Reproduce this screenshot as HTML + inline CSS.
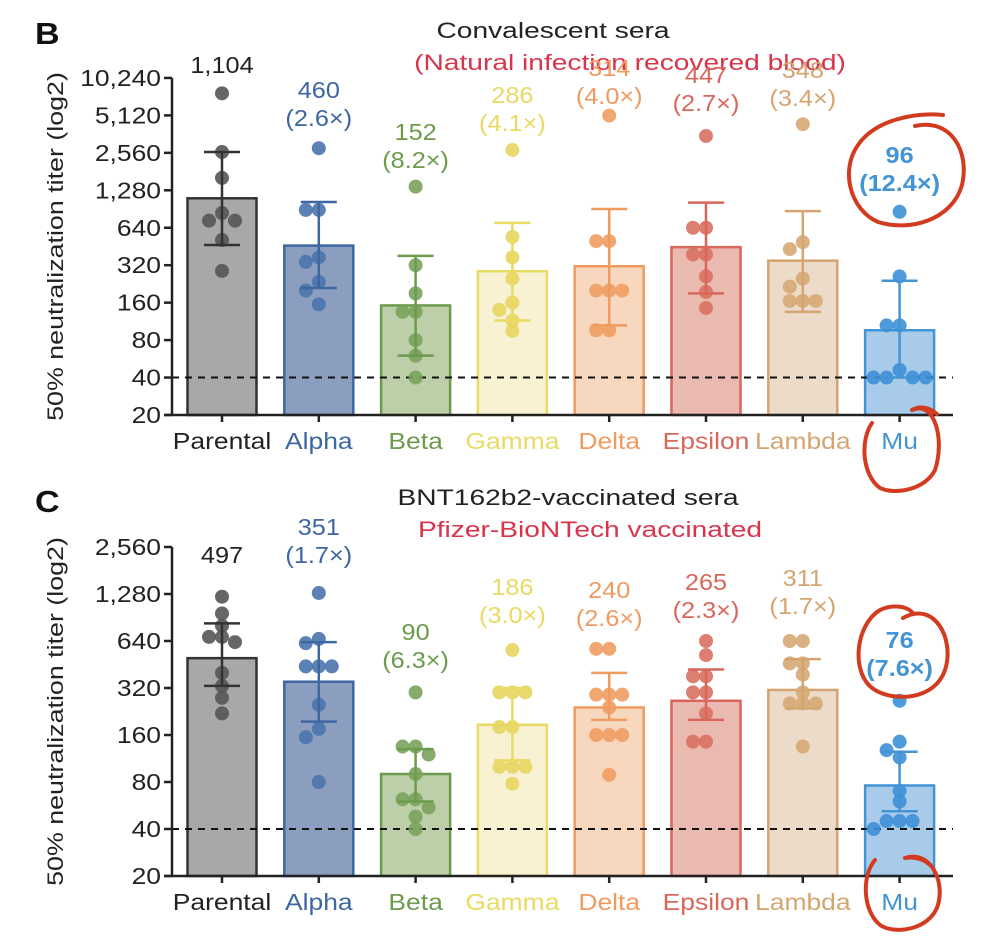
<!DOCTYPE html>
<html><head><meta charset="utf-8"><style>
html,body{margin:0;padding:0;background:#fff;width:1006px;height:942px;overflow:hidden}
svg{display:block;font-family:"Liberation Sans",Arial,sans-serif}
</style></head><body>
<svg id="chart" width="1006" height="942" viewBox="0 0 1006 942" xmlns="http://www.w3.org/2000/svg"></svg>
<script>
const categories = ["Parental","Alpha","Beta","Gamma","Delta","Epsilon","Lambda","Mu"];
const fillColors = ["#a8a8a8","#8c9ec0","#bccfa9","#f8f2d2","#f7d8bf","#eabab1","#ecdbc8","#a9cbea"];
const strokeColors = ["#333333","#3e66a1","#6c9b4c","#e9da62","#ef9b60","#d8675b","#d4a471","#4394d4"];
const dotColors = ["#555555","#4a74ad","#79a25c","#e7d560","#f09d63","#d97161","#d7a874","#3d90d7"];
const textColors = ["#222222","#3e66a1","#6c9b4c","#e9da62","#ef9b60","#d8675b","#d4a471","#4394d4"];

// Panel B: convalescent sera
const barsB = [1104,460,152,286,314,447,348,96];
const foldB = ["","(2.6×)","(8.2×)","(4.1×)","(4.0×)","(2.7×)","(3.4×)","(12.4×)"];
const valueLabelsB = ["1,104","460","152","286","314","447","348","96"];
const errHiB = [2600,1030,380,700,905,1020,870,240];
const errLoB = [465,210,60,115,105,190,135,40];
const pointsB = [
 [7700,2600,1610,840,730,730,510,288],
 [2790,890,890,370,340,235,200,155],
 [1370,320,190,135,135,80,60,40],
 [2700,540,370,250,160,140,115,95],
 [5100,500,500,200,200,200,96,96],
 [3500,640,640,390,390,260,195,145],
 [4350,490,430,250,215,165,165,165],
 [860,260,105,105,46,40,40,40,40]
];
const ticksB = [20,40,80,160,320,640,1280,2560,5120,10240];
const tickLabelsB = ["20","40","80","160","320","640","1,280","2,560","5,120","10,240"];

// Panel C: BNT162b2-vaccinated sera
const barsC = [497,351,90,186,240,265,311,76];
const foldC = ["","(1.7×)","(6.3×)","(3.0×)","(2.6×)","(2.3×)","(1.7×)","(7.6×)"];
const valueLabelsC = ["497","351","90","186","240","265","311","76"];
const errHiC = [830,630,130,320,400,420,490,125];
const errLoC = [330,195,60,110,200,200,237,52];
const pointsC = [
 [1230,960,800,680,680,630,400,330,277,220],
 [1300,660,620,440,440,440,250,175,155,80],
 [300,135,135,120,90,62,62,55,48,40],
 [560,300,300,300,180,180,100,100,100,78],
 [570,570,290,290,290,240,160,160,160,89],
 [640,520,380,380,300,300,220,145,145],
 [640,640,460,460,390,300,255,255,255,135],
 [265,145,128,115,70,60,45,45,45,40]
];
const ticksC = [20,40,80,160,320,640,1280,2560];
const tickLabelsC = ["20","40","80","160","320","640","1,280","2,560"];

const NS="http://www.w3.org/2000/svg";
const svg=document.getElementById("chart");
function mk(tag,attrs,parent){const e=document.createElementNS(NS,tag);for(const k in attrs)e.setAttribute(k,attrs[k]);(parent||svg).appendChild(e);return e;}
function txt(s,x,y,sx,attrs,parent){const a=Object.assign({x:0,y:0,transform:`translate(${x},${y}) scale(${sx},1)`},attrs);const e=mk("text",a,parent);e.textContent=s;return e;}

const axisX=172, axisEnd=953, cx0=222, step=96.8, barW=69;
function xPos(i){return cx0+i*step;}

function drawPanel(cfg){
  const g=mk("g",{});
  
  
  const y=v=>cfg.base - Math.log2(v/20)*cfg.oct;
  const L=txt(cfg.letter,35,cfg.letterY,1.1,{"font-size":31,"font-weight":"bold",fill:"#111"},g);
  
  
  const t1=txt(cfg.title,cfg.titleX,cfg.titleY,1.28,{"font-size":22,fill:"#222","text-anchor":"middle"},g);
  
  
  const t2=txt(cfg.sub,cfg.subX,cfg.titleY+32,1.28,{"font-size":22,fill:"#d8344a","text-anchor":"middle"},g);
  
  
  const yc=(cfg.base+y(cfg.ticks[cfg.ticks.length-1]))/2;
  const yt=mk("text",{x:0,y:0,"font-size":22,fill:"#222","text-anchor":"middle",transform:`translate(63,${yc}) rotate(-90) scale(${cfg.ytScale},1)`},g);
  yt.textContent="50% neutralization titer (log2)";
  
  
  for(let i=0;i<categories.length;i++){
    const v=cfg.bars[i], x=xPos(i);
    const b=mk("rect",{x:x-barW/2,y:y(v),width:barW,height:cfg.base-y(v),fill:fillColors[i],stroke:strokeColors[i],"stroke-width":2.5},g);
    
    
  }
  const dl=mk("line",{x1:axisX,x2:axisEnd,y1:y(40),y2:y(40),stroke:"#111","stroke-width":2,"stroke-dasharray":"7,6"},g);
  
  
  for(let i=0;i<categories.length;i++){
    const x=xPos(i); const placed=[];
    const offs=[0,-13,13,-26,26,-6,6,-20,20,-32,32];
    cfg.points[i].forEach(v=>{
      const py=y(v); let ox=0;
      for(const o of offs){ if(!placed.some(p=>Math.abs(p[1]-py)<10 && Math.abs(p[0]-o)<12)){ox=o;break;} }
      placed.push([ox,py]);
      const c=mk("circle",{cx:x+ox,cy:py,r:7,fill:dotColors[i],"fill-opacity":0.9},g);
      
      
    });
    const hi=y(cfg.hi[i]), lo=y(cfg.lo[i]);
    const eg=mk("g",{stroke:strokeColors[i],"stroke-width":2.5},g);
    
    
    mk("line",{x1:x,x2:x,y1:hi,y2:lo},eg);
    mk("line",{x1:x-18,x2:x+18,y1:hi,y2:hi},eg);
    mk("line",{x1:x-18,x2:x+18,y1:lo,y2:lo},eg);
    const tc=textColors[i]; const bold=(i===7)?"bold":"normal";
    const vl=txt(cfg.vlabels[i],x,cfg.labY[i],1.1,{"font-size":23,fill:tc,"text-anchor":"middle","font-weight":bold},g);
    
    
    if(cfg.fold[i]){
      const fl=txt(cfg.fold[i],x,cfg.labY[i]+28,1.1,{"font-size":23,fill:tc,"text-anchor":"middle","font-weight":bold},g);
      
      
    }
    const cl=txt(categories[i],x,cfg.base+34,1.15,{"font-size":23,fill:textColors[i],"text-anchor":"middle"},g);
    
    
  }
  const ax=mk("g",{stroke:"#222","stroke-width":2.5},g);
  
  
  const top=y(cfg.ticks[cfg.ticks.length-1]);
  mk("line",{x1:axisX,x2:axisX,y1:top,y2:cfg.base},ax);
  mk("line",{x1:axisX-8,x2:axisEnd,y1:cfg.base,y2:cfg.base},ax);
  cfg.ticks.forEach((t,k)=>{
    mk("line",{x1:axisX-8,x2:axisX,y1:y(t),y2:y(t)},ax);
    const tl=txt(cfg.tickLabels[k],axisX-11,y(t)+8,1.15,{"font-size":23,fill:"#222","text-anchor":"end"},g);
    
    
  });
  for(let i=0;i<categories.length;i++) mk("line",{x1:xPos(i),x2:xPos(i),y1:cfg.base,y2:cfg.base+7},ax);
}

drawPanel({name:"panel-b-convalescent",letter:"B",letterY:44,title:"Convalescent sera",titleX:553,titleY:38,sub:"(Natural infection recovered blood)",subX:630,ytScale:1.22,
  base:415,oct:37.45,bars:barsB,fold:foldB,vlabels:valueLabelsB,hi:errHiB,lo:errLoB,points:pointsB,ticks:ticksB,tickLabels:tickLabelsB,
  labY:[73,98,140,103,76,83,78,163]});
drawPanel({name:"panel-c-vaccinated",letter:"C",letterY:512,title:"BNT162b2-vaccinated sera",titleX:568,titleY:505,sub:"Pfizer-BioNTech vaccinated",subX:590,ytScale:1.22,
  base:876,oct:47,bars:barsC,fold:foldC,vlabels:valueLabelsC,hi:errHiC,lo:errLoC,points:pointsC,ticks:ticksC,tickLabels:tickLabelsC,
  labY:[563,535,640,595,598,590,586,648]});

const ann=mk("g",{fill:"none",stroke:"#d23b1f","stroke-width":4,"stroke-linecap":"round"});


mk("path",{d:"M915 126 C950 118 970 150 962 185 C952 220 910 232 878 222 C850 210 840 170 858 145 C875 120 915 112 943 115"},ann);
mk("path",{d:"M912 410 C935 400 945 440 935 470 C925 490 895 495 880 488 C862 475 860 440 872 423 M912 410 C920 405 930 408 937 414"},ann);
mk("path",{d:"M903 618 C935 600 955 640 945 670 C935 700 895 702 875 690 C850 675 855 625 880 610 C890 605 905 605 912 612"},ann);
mk("path",{d:"M905 858 C930 850 945 880 938 905 C930 930 895 935 880 925 C862 910 862 875 875 860 M905 858 C915 856 925 860 930 865"},ann);
</script>
</body></html>
